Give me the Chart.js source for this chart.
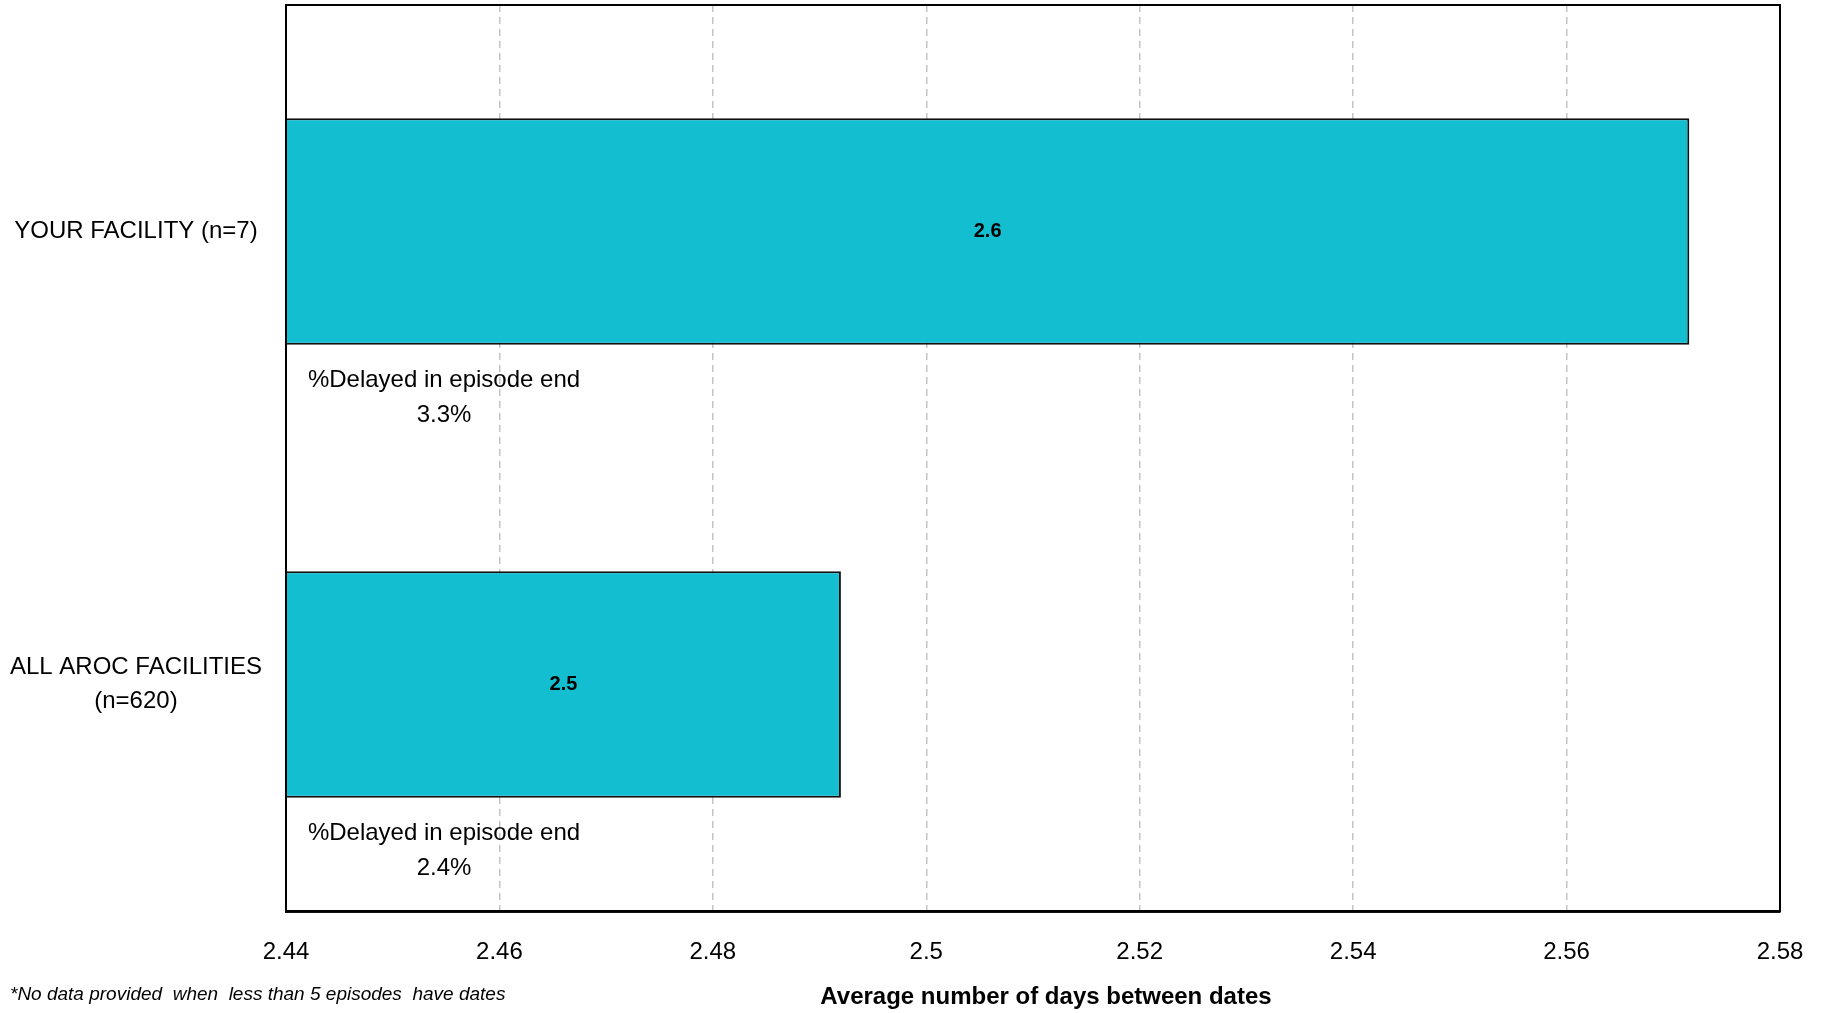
<!DOCTYPE html>
<html>
<head>
<meta charset="utf-8">
<script src="https://cdn.jsdelivr.net/npm/chart.js@4"></script>
<style>
  html, body { margin: 0; padding: 0; background: #fff; }
  #chart { display: block; }
</style>
</head>
<body>
<canvas id="chart" width="1825" height="1013"></canvas>
<script>
// values
const categories = [["YOUR FACILITY (n=7)"], ["ALL AROC FACILITIES", "(n=620)"]];
const avgDays = [2.5715, 2.492];
const delayedPct = [3.3, 2.4];
const xMin = 2.44;
const xMax = 2.58;
const xStep = 0.02;
const xTitle = "Average number of days between dates";
const footnote = "*No data provided  when  less than 5 episodes  have dates";

const FONT = '"Liberation Sans", Arial, sans-serif';

// bar value labels + "%Delayed" notes + plot frame + axis title + footnote
const extras = {
  id: "extras",
  afterDraw(chart) {
    const { ctx, chartArea } = chart;
    const xScale = chart.scales.x;
    const yScale = chart.scales.y;

    ctx.save();
    ctx.fillStyle = "#000";
    ctx.textAlign = "center";
    ctx.textBaseline = "middle";

    avgDays.forEach((v, i) => {
      const cy = yScale.getPixelForValue(i);
      const cx = (xScale.getPixelForValue(v) + xScale.getPixelForValue(xMin)) / 2;
      ctx.font = "bold 20px " + FONT;
      ctx.fillText(v.toFixed(1), cx, cy);

      ctx.font = "24px " + FONT;
      ctx.fillText("%Delayed in episode end", chartArea.left + 158, cy + 149);
      ctx.fillText(delayedPct[i].toFixed(1) + "%", chartArea.left + 158, cy + 184);
    });

    ctx.strokeStyle = "#000";
    ctx.lineWidth = 2;
    ctx.strokeRect(chartArea.left, chartArea.top, chartArea.right - chartArea.left, chartArea.bottom - chartArea.top);

    ctx.font = "bold 24px " + FONT;
    ctx.fillText(xTitle, chartArea.left + 760, 997);

    ctx.textAlign = "left";
    ctx.font = "italic 19px " + FONT;
    ctx.fillText(footnote, 10, 995);
    ctx.restore();
  }
};

new Chart(document.getElementById("chart"), {
  type: "bar",
  data: {
    labels: categories,
    datasets: [{
      data: avgDays,
      backgroundColor: "#13bed0",
      borderColor: "#111",
      borderWidth: 2,
      borderSkipped: false,
      barPercentage: 0.5,
      categoryPercentage: 1
    }]
  },
  options: {
    indexAxis: "y",
    responsive: false,
    animation: false,
    layout: { padding: { top: 5, right: 45, left: 0, bottom: 0 } },
    plugins: {
      legend: { display: false },
      tooltip: { enabled: false }
    },
    scales: {
      x: {
        type: "linear",
        min: xMin,
        max: xMax,
        ticks: {
          stepSize: xStep,
          color: "#000",
          font: { family: FONT, size: 24 },
          padding: 27,
          callback: (v) => String(parseFloat(v.toFixed(2)))
        },
        grid: { color: "#c4c4c4", lineWidth: 1.5, drawTicks: false },
        border: { display: true, color: "#111", width: 3, dash: [7, 5] },
        afterFit: (scale) => {
          scale.height = 102;
          scale.paddingLeft = 0;
          scale.paddingRight = 0;
        }
      },
      y: {
        ticks: {
          color: "#000",
          font: { family: FONT, size: 24, lineHeight: 1.42 },
          padding: 24,
          crossAlign: "center"
        },
        grid: { display: false, drawTicks: false },
        border: { display: true, color: "#111", width: 2 },
        afterFit: (scale) => {
          scale.width = 286;
          scale.paddingTop = 0;
          scale.paddingBottom = 0;
        }
      }
    }
  },
  plugins: [extras]
});
</script>
</body>
</html>
